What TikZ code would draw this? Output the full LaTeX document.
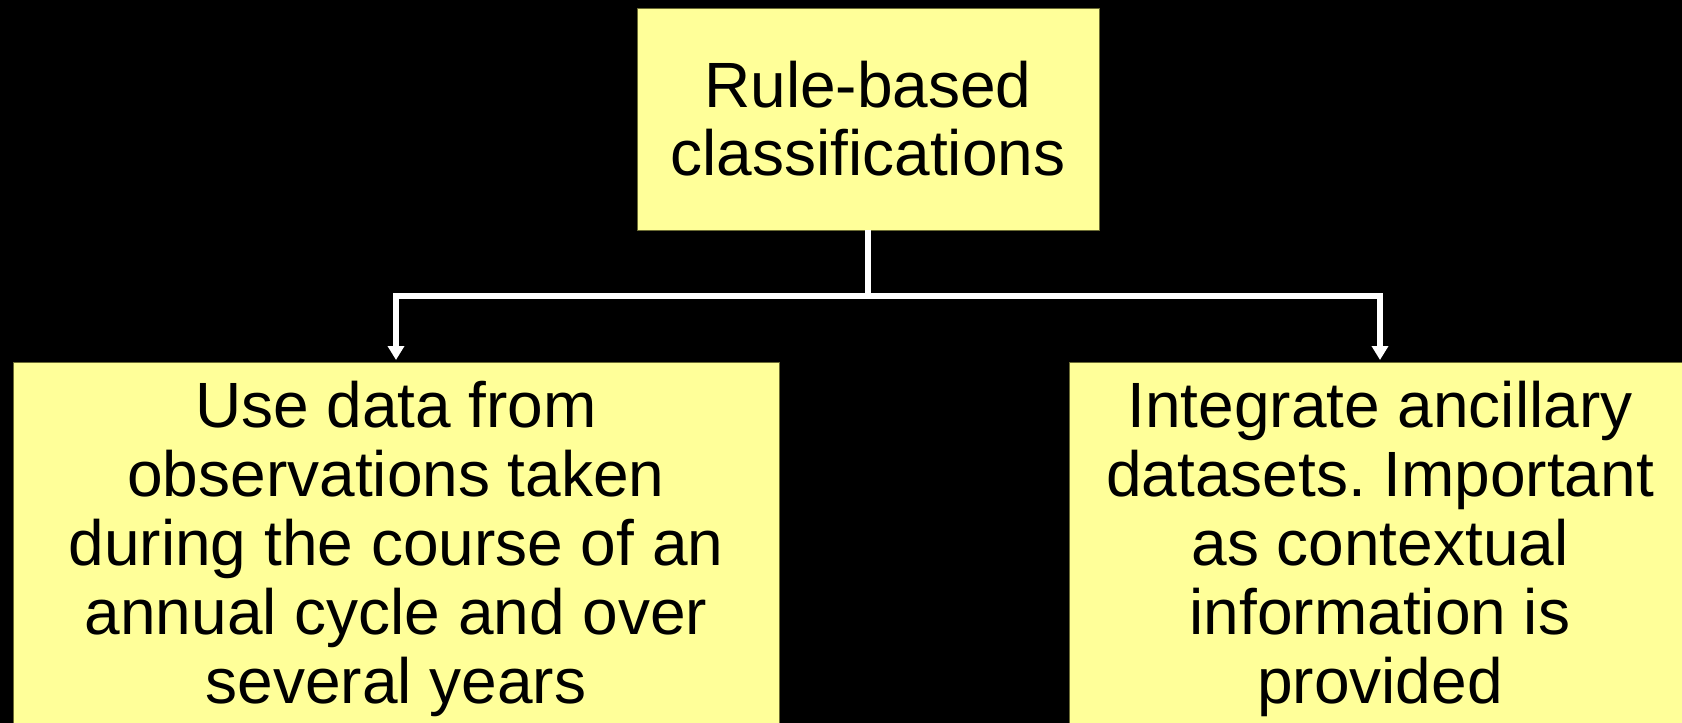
\documentclass[tikz,border=0pt]{standalone}
\usepackage{fontspec}
\setmainfont{Liberation Sans}
\usetikzlibrary{arrows.meta}
\frenchspacing
\definecolor{boxfill}{HTML}{FFFF99}
\definecolor{boxline}{HTML}{6B6B33}
\tikzset{
  ybox/.style={draw=boxline, line width=0.5pt, fill=boxfill, inner sep=0pt, outer sep=0pt},
  btext/.style={anchor=base, inner sep=0pt, text=black},
  conn/.style={draw=white, line width=2.8pt, line join=miter, >={Triangle[width=8pt,length=7pt]}}
}
\begin{document}
\begin{tikzpicture}[x=0.5pt,y=-0.5pt]
\fill[black] (0,0) rectangle (1682,723);
\useasboundingbox (0,0) rectangle (1682,723);
\clip (0,0) rectangle (1682,723);
\node[ybox, minimum width=231pt, minimum height=111pt] (top) at (868,119) {};
\node[ybox, minimum width=383pt, minimum height=219pt] (left) at (396,581) {};
\node[ybox, minimum width=311pt, minimum height=219pt] (right) at (1380,581) {};
\node[btext] (toptext) at (868,107) {\fontsize{32}{34}\selectfont\begin{tabular}[t]{@{}c@{}}Rule-based\\classifications\end{tabular}};
\node[btext] (lefttext) at (396,427) {\fontsize{32}{34.5}\selectfont\begin{tabular}[t]{@{}c@{}}Use data from\\observations taken\\during the course of an\\annual cycle and over\\several years\end{tabular}};
\node[btext] (righttext) at (1380,427) {\fontsize{32}{34.5}\selectfont\begin{tabular}[t]{@{}c@{}}Integrate ancillary\\datasets. Important\\as contextual\\information is\\provided\end{tabular}};
\coordinate (j) at (868,296);
\draw[conn] (top.south) -- (j);
\draw[conn, <->, shorten <=1pt, shorten >=1pt] (left.north) |- (j) -| (right.north);
\end{tikzpicture}
\end{document}
